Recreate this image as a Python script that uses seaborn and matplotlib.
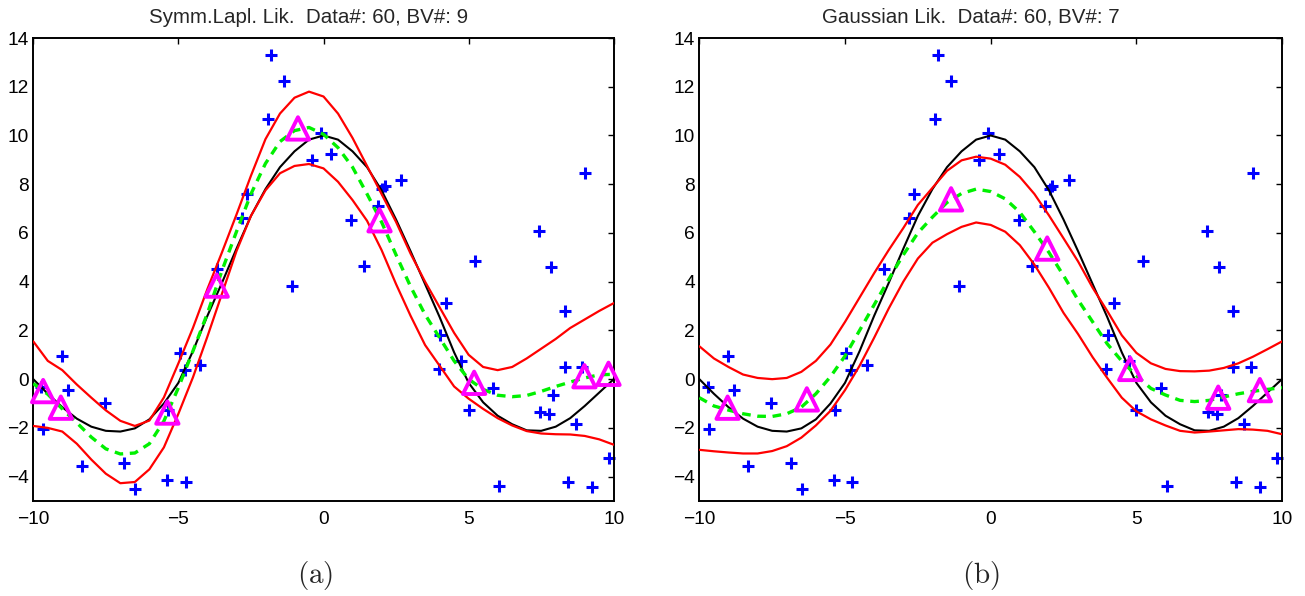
import matplotlib
matplotlib.use("Agg")
import matplotlib.pyplot as plt
import seaborn as sns

# ---------------- data ----------------
x_grid = [-10, -9.5, -9, -8.5, -8, -7.5, -7, -6.5, -6, -5.5, -5, -4.5, -4, -3.5, -3,
          -2.5, -2, -1.5, -1, -0.5, 0, 0.5, 1, 1.5, 2, 2.5, 3, 3.5, 4, 4.5, 5,
          5.5, 6, 6.5, 7, 7.5, 8, 8.5, 9, 9.5, 10]

true_f = [0.0, -0.6, -1.15, -1.62, -1.95, -2.12, -2.15, -2.02, -1.65, -1.0, -0.15,
          1.15, 2.6, 3.95, 5.35, 6.7, 7.8, 8.7, 9.35, 9.83, 10.0, 9.83, 9.35, 8.7,
          7.75, 6.55, 5.25, 3.9, 2.55, 1.1, -0.15, -0.95, -1.5, -1.85, -2.1, -2.12,
          -1.95, -1.6, -1.1, -0.55, 0.0]

lap_mean = [-0.18, -0.62, -1.22, -1.79, -2.38, -2.86, -3.07, -3.03, -2.65, -1.72, -0.35,
            1.15, 2.7, 4.45, 6.05, 7.6, 8.85, 9.75, 10.2, 10.33, 10.05, 9.5, 8.7, 7.6,
            6.45, 5.1, 3.8, 2.65, 1.7, 0.75, 0.0, -0.42, -0.66, -0.72, -0.67, -0.5,
            -0.3, -0.12, 0.05, 0.18, 0.2]
lap_upper = [1.55, 0.75, 0.37, -0.22, -0.76, -1.28, -1.71, -1.92, -1.7, -0.75, 0.65,
             2.1, 3.7, 5.2, 6.75, 8.35, 9.85, 10.9, 11.55, 11.8, 11.6, 10.9, 9.9, 8.75,
             7.6, 6.45, 5.15, 4.0, 2.95, 1.9, 1.0, 0.5, 0.37, 0.5, 0.85, 1.25, 1.65,
             2.1, 2.45, 2.8, 3.12]
lap_lower = [-1.92, -2.0, -2.15, -2.65, -3.3, -3.88, -4.27, -4.22, -3.7, -2.8, -1.42,
             0.07, 1.75, 3.5, 5.25, 6.7, 7.75, 8.45, 8.75, 8.83, 8.65, 8.1, 7.35, 6.5,
             5.3, 3.9, 2.6, 1.4, 0.55, -0.3, -0.8, -1.22, -1.6, -1.9, -2.13, -2.23,
             -2.26, -2.27, -2.33, -2.47, -2.69]

gau_mean = [-0.76, -1.1, -1.27, -1.42, -1.52, -1.53, -1.42, -1.15, -0.6, 0.1, 0.95,
            2.0, 3.05, 4.1, 5.1, 6.0, 6.65, 7.25, 7.62, 7.8, 7.7, 7.4, 6.85, 6.05,
            5.2, 4.25, 3.25, 2.35, 1.45, 0.74, 0.15, -0.38, -0.65, -0.87, -0.92, -0.87,
            -0.73, -0.6, -0.5, -0.42, -0.35]
gau_upper = [1.35, 0.85, 0.5, 0.19, 0.05, 0.0, 0.05, 0.3, 0.75, 1.42, 2.35,
             3.35, 4.35, 5.3, 6.2, 7.15, 7.85, 8.55, 8.98, 9.13, 9.05, 8.8, 8.3, 7.6,
             6.72, 5.78, 4.83, 3.75, 2.8, 1.8, 1.08, 0.65, 0.42, 0.33, 0.32, 0.35,
             0.46, 0.65, 0.92, 1.23, 1.55]
gau_lower = [-2.9, -2.96, -3.01, -3.05, -3.05, -2.95, -2.75, -2.4, -1.9, -1.3, -0.45,
             0.55, 1.7, 2.9, 4.0, 4.95, 5.6, 5.95, 6.25, 6.43, 6.33, 6.05, 5.5, 4.7,
             3.75, 2.72, 1.85, 0.9, 0.05, -0.76, -1.32, -1.65, -1.9, -2.12, -2.19,
             -2.15, -2.1, -2.05, -2.07, -2.12, -2.26]

data_x = [-9.72, -9.66, -9.02, -8.80, -8.33, -7.54, -6.87, -6.49, -5.39, -5.36, -4.75,
          -4.95, -4.78, -4.25, -3.67, -2.80, -2.63, -1.90, -1.80, -1.37, -1.10, -0.41,
          -0.08, 0.27, 0.96, 1.41, 1.87, 2.02, 2.12, 2.68, 3.97, 4.02, 4.23, 4.75,
          5.00, 5.23, 5.84, 6.06, 7.43, 7.45, 7.77, 7.83, 7.89, 8.33, 8.33, 8.43,
          8.71, 8.92, 9.01, 9.25, 9.83]
data_y = [-0.34, -2.04, 0.95, -0.43, -3.55, -0.98, -3.45, -4.49, -4.15, -1.26, -4.24,
          1.09, 0.37, 0.57, 4.53, 6.60, 7.58, 10.68, 13.29, 12.22, 3.84, 9.00,
          10.09, 9.25, 6.52, 4.63, 7.10, 7.80, 7.92, 8.19, 0.40, 1.80, 3.14, 0.73,
          -1.28, 4.86, -0.38, -4.39, 6.07, -1.33, -1.44, 4.59, -0.64, 2.79, 0.51, -4.24,
          -1.86, 0.51, 8.45, -4.41, -3.24]

lap_bv_x = [-9.66, -9.05, -5.38, -3.68, -0.88, 1.93, 5.19, 8.99, 9.82]
lap_bv_y = [-0.49, -1.17, -1.37, 3.84, 10.29, 6.52, -0.15, 0.12, 0.22]
gau_bv_x = [-9.03, -6.31, -1.36, 1.94, 4.79, 7.81, 9.24]
gau_bv_y = [-1.17, -0.83, 7.38, 5.36, 0.42, -0.76, -0.45]

titles = ["Symm.Lapl. Lik.  Data#: 60, BV#: 9", "Gaussian Lik.  Data#: 60, BV#: 7"]
panel_labels = [r"$\mathrm{(a)}$", r"$\mathrm{(b)}$"]
x_ticks = [-10, -5, 0, 5, 10]
y_ticks = [-4, -2, 0, 2, 4, 6, 8, 10, 12, 14]

# ---------------- styling ----------------
sns.set_style("white")
plt.rcParams["font.family"] = ["Liberation Sans", "DejaVu Sans"]
plt.rcParams["mathtext.fontset"] = "cm"

fig = plt.figure(figsize=(13.05, 5.96), dpi=100)
ax_l = fig.add_axes([0.0255, 0.1594, 0.4448, 0.7768])
ax_r = fig.add_axes([0.5359, 0.1594, 0.4465, 0.7768])

panels = [
    (ax_l, lap_mean, lap_upper, lap_lower, lap_bv_x, lap_bv_y, 0.475),
    (ax_r, gau_mean, gau_upper, gau_lower, gau_bv_x, gau_bv_y, 0.466),
]

for i, (ax, mean, upper, lower, bvx, bvy, tx) in enumerate(panels):
    sns.scatterplot(x=data_x, y=data_y, ax=ax, marker="+", s=64, color="#0000FF",
                    linewidth=2.2, zorder=2, legend=False, clip_on=False)
    sns.lineplot(x=x_grid, y=true_f, ax=ax, color="black", linewidth=1.5,
                 estimator=None, sort=False, zorder=3)
    sns.lineplot(x=x_grid, y=mean, ax=ax, color="#00F000", linewidth=2.4,
                 linestyle=(0, (2.6, 2.0)), estimator=None, sort=False, zorder=4)
    sns.lineplot(x=x_grid, y=upper, ax=ax, color="#FF0000", linewidth=1.6,
                 estimator=None, sort=False, zorder=4)
    sns.lineplot(x=x_grid, y=lower, ax=ax, color="#FF0000", linewidth=1.6,
                 estimator=None, sort=False, zorder=4)
    sns.scatterplot(x=bvx, y=bvy, ax=ax, marker="^", s=260, facecolors="none",
                    edgecolor="#FF00FF", linewidth=2.8, zorder=5, legend=False,
                    clip_on=False)

    ax.set_xlim(-10, 10)
    ax.set_ylim(-5, 14)
    ax.set_xticks(x_ticks)
    ax.set_yticks(y_ticks)
    ax.tick_params(direction="in", length=4.5, width=1.0, top=True, right=True,
                   labelsize=13.8, colors="black")
    ax.tick_params(axis="x", pad=7)
    ax.tick_params(axis="y", pad=3)
    for sp in ax.spines.values():
        sp.set_visible(True)
        sp.set_linewidth(1.4)
        sp.set_color("black")
    ax.set_title(titles[i], fontsize=14.8, pad=11, x=tx)
    ax.set_xlabel("")
    ax.set_ylabel("")

fig.text(0.2418, 0.034, panel_labels[0], fontsize=21, ha="center", va="center")
fig.text(0.7516, 0.034, panel_labels[1], fontsize=21, ha="center", va="center")

fig.savefig("out.png", dpi=100)
